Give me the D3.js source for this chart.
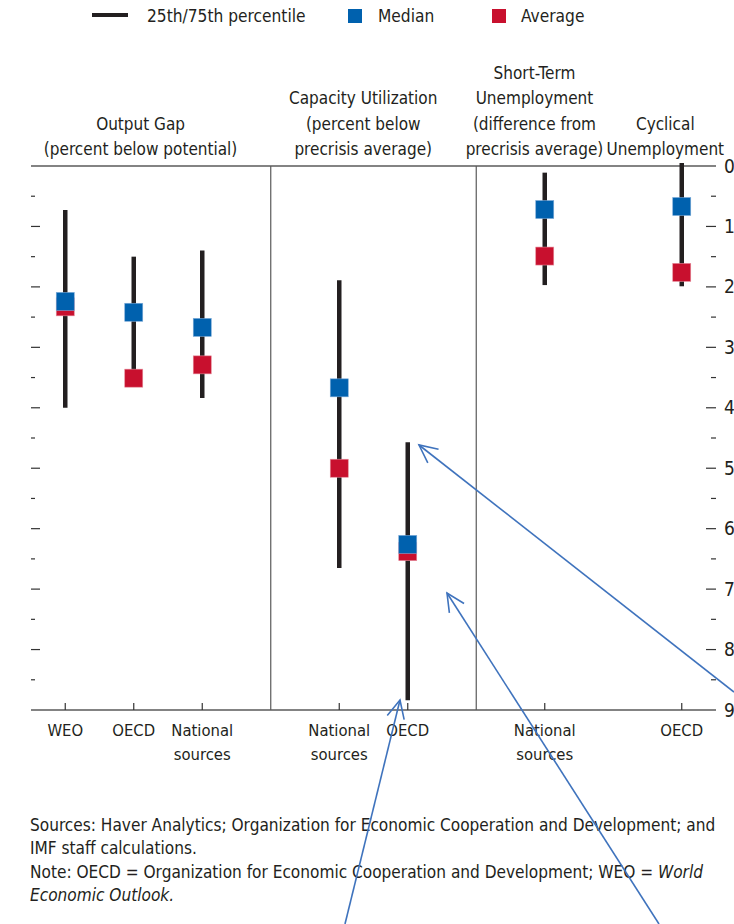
<!DOCTYPE html>
<html lang="en">
<head>
<meta charset="UTF-8">
<title>Slack measures</title>
<script src="https://cdn.jsdelivr.net/npm/d3@7"></script>
<style>
  body { margin: 0; background: #fff; }
  svg text { font-family: "DejaVu Sans Condensed", "Liberation Sans Narrow", sans-serif; fill: #231f20; }
</style>
</head>
<body>
<script>
    // slots along the x axis (empty strings are gaps / panel separators)
    var slots = ["WEO", "OECD", "National\nsources", "", "National\nsources", "OECD", "", "National\nsources", "", "OECD"];
    var separators = [3, 6];

    // one entry per plotted category: slot index, 25th pct, 75th pct, median, average
    var catSlot = [0, 1, 2, 4, 5, 7, 9];
    var p25 = [0.73, 1.50, 1.40, 1.89, 4.57, 0.11, -0.05];
    var p75 = [4.00, 3.50, 3.84, 6.65, 8.84, 1.97, 1.99];
    var median = [2.24, 2.42, 2.67, 3.67, 6.26, 0.72, 0.67];
    var average = [2.33, 3.51, 3.29, 5.00, 6.38, 1.49, 1.76];

    // panel titles: slot position of centre, lines
    var titleSlot = [1.1, 4.35, 6.85, 8.76];
    var titleLines = [
        ["Output Gap", "(percent below potential)"],
        ["Capacity Utilization", "(percent below", "precrisis average)"],
        ["Short-Term", "Unemployment", "(difference from", "precrisis average)"],
        ["Cyclical", "Unemployment"]
    ];

    var yTicks = [0, 1, 2, 3, 4, 5, 6, 7, 8, 9];

    // blue annotation arrows on top of the figure: tail -> tip
    var annotationArrows = [
        { x1: 734, y1: 692, x2: 419, y2: 445 },
        { x1: 659, y1: 924, x2: 447, y2: 593 },
        { x1: 345, y1: 924, x2: 400, y2: 700 }
    ];

    var width = 734, height = 924;
    var blue = "#0061ae", red = "#c8102e", ink = "#231f20";

    var svg = d3.select("body").append("svg")
        .attr("width", width)
        .attr("height", height);

    var x = d3.scaleBand()
        .domain(d3.range(slots.length))
        .range([31, 716])
        .paddingInner(0);
    var cx = function (i) { return x(0) + (i + 0.5) * x.bandwidth(); };

    var y = d3.scaleLinear().domain([0, 9]).range([166, 710]);

    // legend
    var lg = svg.append("g").attr("class", "legend").attr("font-size", 17.2);
    lg.append("line").attr("x1", 92).attr("x2", 128).attr("y1", 15).attr("y2", 15)
        .attr("stroke", ink).attr("stroke-width", 4);
    lg.append("text").attr("x", 147).attr("y", 22).text("25th/75th percentile");
    lg.append("rect").attr("x", 348).attr("y", 9).attr("width", 14).attr("height", 14).attr("fill", blue);
    lg.append("text").attr("x", 378).attr("y", 22).text("Median");
    lg.append("rect").attr("x", 492).attr("y", 9).attr("width", 14).attr("height", 14).attr("fill", red);
    lg.append("text").attr("x", 521).attr("y", 22).text("Average");

    // panel titles
    titleLines.forEach(function (lines, k) {
        var n = lines.length;
        svg.append("g").selectAll("text")
            .data(lines)
            .enter()
            .append("text")
            .attr("x", cx(titleSlot[k]))
            .attr("y", function (d, i) { return 155 - (n - 1 - i) * 25.3; })
            .attr("text-anchor", "middle")
            .attr("font-size", 17)
            .text(function (d) { return d; });
    });

    // frame: top line, bottom axis line, separators
    var frame = svg.append("g").attr("stroke", "#5a5a5a");
    frame.append("line").attr("x1", x.range()[0]).attr("x2", x.range()[1])
        .attr("y1", y(0)).attr("y2", y(0)).attr("stroke-width", 1.5);
    frame.append("line").attr("x1", x.range()[0]).attr("x2", x.range()[1])
        .attr("y1", y(9)).attr("y2", y(9)).attr("stroke-width", 1.5);
    frame.selectAll("line.sep")
        .data(separators)
        .enter()
        .append("line")
        .attr("class", "sep")
        .attr("x1", cx).attr("x2", cx)
        .attr("y1", y(0)).attr("y2", y(9))
        .attr("stroke-width", 1.2);

    // minor and major ticks on left and right edges
    var halfTicks = d3.range(1, 18).map(function (i) { return i / 2; });
    var ticks = svg.append("g").attr("stroke", "#333").attr("stroke-width", 1.2);
    ticks.selectAll("line.lt")
        .data(halfTicks)
        .enter()
        .append("line")
        .attr("x1", x.range()[0])
        .attr("x2", function (d) { return x.range()[0] + (d % 1 === 0 ? 9 : 4); })
        .attr("y1", y).attr("y2", y);
    ticks.selectAll("line.rt")
        .data(halfTicks)
        .enter()
        .append("line")
        .attr("x1", function (d) { return x.range()[1] - (d % 1 === 0 ? 10 : 5); })
        .attr("x2", x.range()[1])
        .attr("y1", y).attr("y2", y);

    // category ticks on bottom axis
    ticks.selectAll("line.ct")
        .data(catSlot)
        .enter()
        .append("line")
        .attr("x1", cx).attr("x2", cx)
        .attr("y1", y(9)).attr("y2", y(9) - 7);

    // right axis labels
    svg.append("g").selectAll("text")
        .data(yTicks)
        .enter()
        .append("text")
        .attr("x", x.range()[1] + 8)
        .attr("y", function (d) { return y(d) + 6.5; })
        .attr("font-size", 19)
        .text(function (d) { return d; });

    // category labels
    svg.append("g").selectAll("text")
        .data(catSlot)
        .enter()
        .append("text")
        .attr("x", cx)
        .attr("y", 736)
        .attr("text-anchor", "middle")
        .attr("font-size", 16.5)
        .selectAll("tspan")
        .data(function (s) { return slots[s].split("\n"); })
        .enter()
        .append("tspan")
        .attr("x", function () { return d3.select(this.parentNode).attr("x"); })
        .attr("dy", function (d, i) { return i === 0 ? 0 : 24; })
        .text(function (d) { return d; });

    // whiskers
    var idx = d3.range(catSlot.length);
    var sq = 18;
    svg.append("g").selectAll("line")
        .data(idx)
        .enter()
        .append("line")
        .attr("x1", function (i) { return cx(catSlot[i]); })
        .attr("x2", function (i) { return cx(catSlot[i]); })
        .attr("y1", function (i) { return y(p25[i]); })
        .attr("y2", function (i) { return y(p75[i]); })
        .attr("stroke", ink)
        .attr("stroke-width", 4.5);

    // averages then medians on top
    svg.append("g").selectAll("rect")
        .data(idx)
        .enter()
        .append("rect")
        .attr("x", function (i) { return cx(catSlot[i]) - sq / 2; })
        .attr("y", function (i) { return y(average[i]) - sq / 2; })
        .attr("width", sq).attr("height", sq)
        .attr("fill", red)
        .attr("stroke", "#e58a9a").attr("stroke-width", 0.6);
    svg.append("g").selectAll("rect")
        .data(idx)
        .enter()
        .append("rect")
        .attr("x", function (i) { return cx(catSlot[i]) - sq / 2; })
        .attr("y", function (i) { return y(median[i]) - sq / 2; })
        .attr("width", sq).attr("height", sq)
        .attr("fill", blue)
        .attr("stroke", "#7aa9d8").attr("stroke-width", 0.6);

    // footnotes
    var foot = svg.append("g").attr("font-size", 17.1);
    foot.append("text").attr("x", 30).attr("y", 831)
        .text("Sources: Haver Analytics; Organization for Economic Cooperation and Development; and");
    foot.append("text").attr("x", 30).attr("y", 854).text("IMF staff calculations.");
    var n1 = foot.append("text").attr("x", 30).attr("y", 878);
    n1.append("tspan").text("Note: OECD = Organization for Economic Cooperation and Development; WEO = ");
    n1.append("tspan").attr("font-style", "italic").text("World");
    foot.append("text").attr("x", 30).attr("y", 901).attr("font-style", "italic").text("Economic Outlook.");

    // annotation arrows
    var ag = svg.append("g").attr("stroke", "#3f73bd").attr("stroke-width", 1.6).attr("fill", "none");
    annotationArrows.forEach(function (a) {
        ag.append("line").attr("x1", a.x1).attr("y1", a.y1).attr("x2", a.x2).attr("y2", a.y2);
        var ang = Math.atan2(a.y1 - a.y2, a.x1 - a.x2), L = 20, spread = 0.45;
        ag.append("polyline").attr("points", [
            [a.x2 + L * Math.cos(ang - spread), a.y2 + L * Math.sin(ang - spread)],
            [a.x2, a.y2],
            [a.x2 + L * Math.cos(ang + spread), a.y2 + L * Math.sin(ang + spread)]
        ].map(function (p) { return p.join(","); }).join(" "));
    });
</script>
</body>
</html>
